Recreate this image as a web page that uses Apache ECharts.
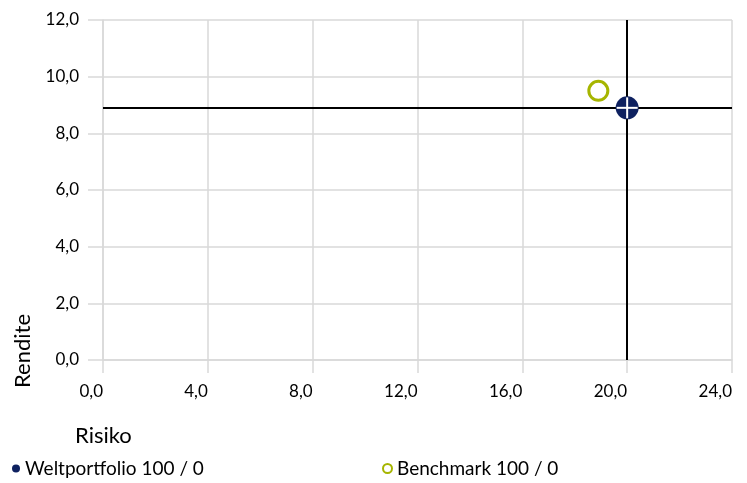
<!DOCTYPE html>
<html>
<head>
<meta charset="utf-8">
<script src="https://cdn.jsdelivr.net/npm/echarts@6/dist/echarts.min.js"></script>
<style>html,body{margin:0;padding:0;background:#fff}#c{width:747px;height:483px}</style>
</head>
<body>
<div id="c"></div>
<script>
var seriesNames = ['Weltportfolio 100 / 0', 'Benchmark 100 / 0'];
var weltportfolio = [[20.0, 8.9]];
var benchmark = [[18.9, 9.5]];
var xTicks = [0, 4, 8, 12, 16, 20, 24];
var yTicks = [0, 2, 4, 6, 8, 10, 12];
var axisNames = { x: 'Risiko', y: 'Rendite' };

var FONT = 'Lato, "Open Sans", sans-serif';
var GRID = '#d9d9d9';
var NAVY = '#0e2160';
var GREEN = '#a6b500';
var fmt = function (v) { return v.toFixed(1).replace('.', ','); };

var chart = echarts.init(document.getElementById('c'));
chart.setOption({
  animation: false,
  backgroundColor: '#fff',
  grid: { left: 103, right: 15, top: 20, bottom: 123 },
  xAxis: {
    type: 'value', min: xTicks[0], max: xTicks[xTicks.length - 1], interval: 4,
    axisLine: { show: true, lineStyle: { color: GRID, width: 1.5 } },
    axisTick: { show: true, length: 13, lineStyle: { color: GRID, width: 1.5 } },
    splitLine: { show: true, lineStyle: { color: GRID, width: 1.5 } },
    axisLabel: { formatter: fmt, align: 'right', margin: 23, color: '#000', fontFamily: FONT, fontSize: 17 }
  },
  yAxis: {
    type: 'value', min: yTicks[0], max: yTicks[yTicks.length - 1], interval: 2,
    axisLine: { show: true, lineStyle: { color: GRID, width: 1.5 } },
    axisTick: { show: true, length: 15, lineStyle: { color: GRID, width: 1.5 } },
    splitLine: { show: true, lineStyle: { color: GRID, width: 1.5 } },
    axisLabel: { formatter: fmt, margin: 24, color: '#000', fontFamily: FONT, fontSize: 17 }
  },
  legend: [
    {
      left: 12, top: 459, padding: 0, icon: 'circle', itemWidth: 8, itemHeight: 8,
      data: [{ name: seriesNames[0], itemStyle: { color: NAVY } }],
      textStyle: { color: '#000', fontFamily: FONT, fontSize: 19 }
    },
    {
      left: 382, top: 459, padding: 0, icon: 'circle', itemWidth: 9, itemHeight: 9,
      data: [{ name: seriesNames[1], itemStyle: { color: '#fff', borderColor: GREEN, borderWidth: 2 } }],
      textStyle: { color: '#000', fontFamily: FONT, fontSize: 19 }
    }
  ],
  graphic: [
    { type: 'text', left: 75, top: 425, style: { text: axisNames.x, font: '22px ' + FONT, fill: '#000' } },
    { type: 'text', x: 12, y: 388, rotation: Math.PI / 2, style: { text: axisNames.y, font: '22px ' + FONT, fill: '#000' } }
  ],
  series: [
    {
      name: 'cross', type: 'scatter', data: [], z: 1, silent: true,
      markLine: {
        silent: true, symbol: 'none', label: { show: false },
        lineStyle: { color: '#000', width: 2, type: 'solid' },
        data: [{ xAxis: weltportfolio[0][0] }, { yAxis: weltportfolio[0][1] }]
      }
    },
    {
      name: seriesNames[1], type: 'scatter', data: benchmark, z: 3,
      symbol: 'circle', symbolSize: 19,
      itemStyle: { color: '#fff', borderColor: GREEN, borderWidth: 3, opacity: 1 }
    },
    {
      name: seriesNames[0], type: 'custom', data: weltportfolio, z: 5,
      itemStyle: { color: NAVY },
      renderItem: function (params, api) {
        var p = api.coord([api.value(0), api.value(1)]);
        var r = 11.5, t = 1;
        return {
          type: 'group',
          children: [
            { type: 'circle', shape: { cx: p[0], cy: p[1], r: r }, style: { fill: NAVY } },
            { type: 'rect', shape: { x: p[0] - t, y: p[1] - r + 1, width: 2 * t, height: 2 * r - 2 }, style: { fill: '#fff' } },
            { type: 'rect', shape: { x: p[0] - r + 1, y: p[1] - t, width: 2 * r - 2, height: 2 * t }, style: { fill: '#fff' } }
          ]
        };
      }
    }
  ]
});
</script>
</body>
</html>
